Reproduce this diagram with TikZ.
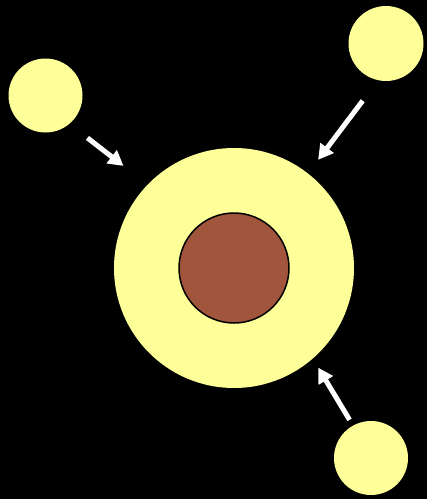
\documentclass[tikz,border=0pt]{standalone}
\usetikzlibrary{arrows.meta}
\definecolor{pale}{HTML}{FFFF99}
\definecolor{core}{HTML}{A0553C}
\tikzset{
  ball/.style={circle,fill=pale,inner sep=0pt,outer sep=0pt,minimum size=74pt},
  push/.style={white,line width=5pt,-{Triangle[length=15pt,width=16pt]}}
}
\begin{document}
\begin{tikzpicture}[x=1pt,y=-1pt]
% 黑色背景
\fill[black] (0,0) rectangle (427,499);
\useasboundingbox (0,0) rectangle (427,499);
% 中央大球与内核
\node[circle,fill=pale,inner sep=0pt,outer sep=0pt,minimum size=240pt] (shell) at (234,268) {};
\node[circle,fill=core,draw=black,line width=1.5pt,inner sep=0pt,outer sep=0pt,minimum size=110pt] (nucleus) at (234,268) {};
% 外围小球
\node[ball] (s1) at (45.5,95.5) {};
\node[ball,minimum size=75pt] (s2) at (386,43.5) {};
\node[ball] (s3) at (371,458) {};
% 指向中央的箭头
\draw[push,shorten <=23pt,shorten >=30.6pt] (s1.-50) -- (shell.136.8);
\draw[push,shorten <=25.7pt,shorten >=17pt] (s2.-102.5) -- (shell.52.5);
\draw[push,shorten <=6.8pt,shorten >=10.5pt] (s3.119.3) -- (shell.-49.6);
\end{tikzpicture}
\end{document}
